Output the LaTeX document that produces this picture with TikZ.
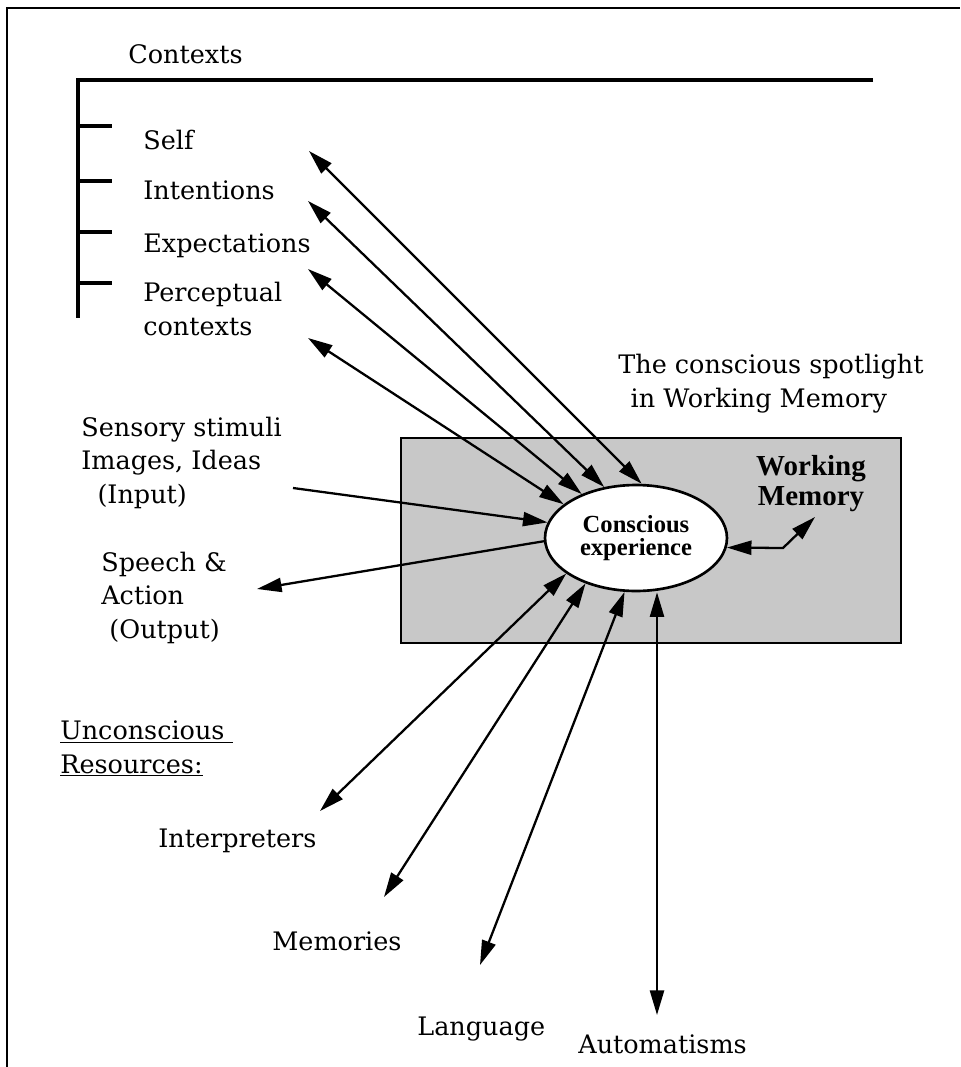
\documentclass[tikz,border=0pt]{standalone}
\usepackage{fontspec}
\setmainfont{DejaVu Serif}
\newfontfamily\timesfont{Liberation Serif}
\usetikzlibrary{arrows.meta,shapes.geometric}
\definecolor{WMGRAY}{HTML}{C8C8C8}

\begin{document}
\begin{tikzpicture}[x=0.02cm, y=-0.02cm,
    lbl/.style={anchor=base west, inner sep=0pt, align=left,
      font=\fontsize{14.5}{18.8}\selectfont},
    dbl/.style={{Triangle[length=14pt,width=8pt]}-{Triangle[length=14pt,width=8pt]}, line width=1.3pt},
    one/.style={-{Triangle[length=14pt,width=8pt]}, line width=1.3pt}]
            \useasboundingbox (0,0) rectangle (960,1067);

            % frame
            \draw[black, line width=1.2pt] (7,1067) -- (7,8) -- (960,8);

            % contexts bracket
            \node[lbl] (ctx) at (128, 64) {Contexts};
            \draw[black, line width=2.2pt] (873,80) -- (78,80) -- (78,318);
            \foreach \yy in {126,181,232,283}
                \draw[black, line width=2.2pt] (78,\yy) -- (112,\yy);
            \node[lbl] (self) at (143,150) {Self};
            \node[lbl] (intent) at (143,200) {Intentions};
            \node[lbl] (expect) at (143,253) {Expectations};
            \node[lbl] (percept) at (143,335) {Perceptual\\contexts};

            % working memory box
            \draw[black, line width=1.3pt, fill=WMGRAY] (401,438) rectangle (901,643);
            \node[lbl] (spot) at (618,407) {The conscious spotlight\\\ \,in Working Memory};
            \node[anchor=base, inner sep=0pt, align=center,
              font=\timesfont\bfseries\fontsize{16.5}{17}\selectfont] (wm) at (811,505) {Working\\Memory};
            \node[ellipse, draw, line width=1.5pt, fill=white, inner sep=0pt,
              minimum width=3.64cm, minimum height=2.12cm, align=center,
              font=\timesfont\bfseries\fontsize{14}{13}\selectfont] (ce) at (636,538) {Conscious\\experience};

            % left side
            \node[lbl] (sens) at (81,503) {Sensory stimuli\\Images, Ideas\\\ \ (Input)};
            \node[lbl] (speech) at (101,638) {Speech \&\\Action\\\ (Output)};
            \node[lbl] (uncon) at (60,773) {\underline{Unconscious\ }\\\underline{Resources:}};

            % bottom labels
            \node[lbl] (interp) at (158,847) {Interpreters};
            \node[lbl] (memo) at (272,950) {Memories};
            \node[lbl] (lang) at (417,1035) {Language};
            \node[lbl] (auto) at (578,1053) {Automatisms};

            % free ends
            \coordinate (selfTip) at (309,151);
            \coordinate (intentTip) at (308,201);
            \coordinate (expectTip) at (308,269);
            \coordinate (perceptTip) at (308,338);
            \coordinate (inStart) at (293,488);
            \coordinate (outTip) at (257,589);
            \coordinate (interpTip) at (320,811);
            \coordinate (memoTip) at (384,897);
            \coordinate (langTip) at (480,965);
            \coordinate (autoTip) at (657,1015);
            \coordinate (wmBend) at (783,548);
            \coordinate (wmTip) at (815,517);

            \draw[dbl] (selfTip) -- (ce.84);
            \draw[dbl] (intentTip) -- (ce.122);
            \draw[dbl] (expectTip) -- (ce.141);
            \draw[dbl] (perceptTip) -- (ce.155);
            \draw[one] (inStart) -- (ce.170);
            \draw[one] (ce.182) -- (outTip);
            \draw[dbl] (interpTip) -- (ce.207);
            \draw[dbl] (memoTip) -- (ce.222);
            \draw[dbl] (langTip) -- (ce.258);
            \draw[dbl] (autoTip) -- (autoTip |- ce.south);
            \draw[dbl] (ce.-6) -- (wmBend) -- (wmTip);
        \end{tikzpicture}
\end{document}
